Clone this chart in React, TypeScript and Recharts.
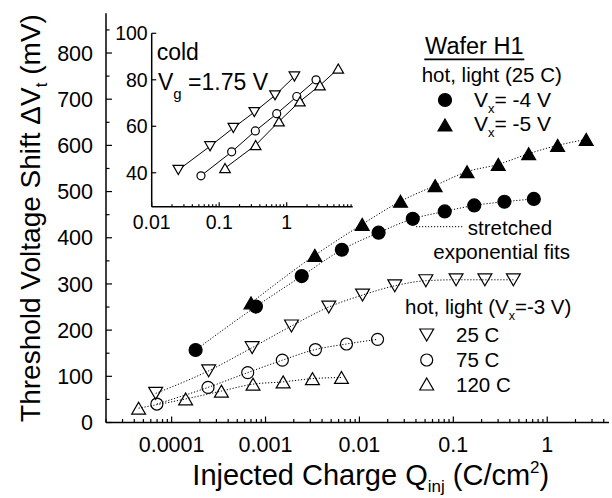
import React from 'react';
import { LineChart, Line, XAxis, YAxis } from 'recharts';

const FONT = '"Liberation Sans", Arial, Helvetica, sans-serif';

// main plot, hot light 25 C
const vx4Q = [1.8e-4, 7.9e-4, 2.43e-3, 6.5e-3, 0.016, 0.037, 0.081, 0.167, 0.35, 0.72];
const vx4Dv = [157, 251, 317, 374, 411, 441, 457, 470, 478, 484];
const vx5Q = [7.0e-4, 3.35e-3, 0.0107, 0.0274, 0.064, 0.14, 0.301, 0.635, 1.29, 2.6];
const vx5Dv = [259, 362, 429, 479, 513, 543, 559, 582, 600, 613];

// main plot, hot light Vx = -3 V
const t25Q = [6.76e-5, 2.48e-4, 7.2e-4, 1.89e-3, 4.72e-3, 0.0108, 0.0238, 0.051, 0.107, 0.217, 0.436];
const t25Dv = [63, 112, 162, 209, 250, 276, 296, 307, 309, 309, 309];
const t75Q = [6.96e-5, 2.44e-4, 6.46e-4, 1.51e-3, 3.4e-3, 7.28e-3, 0.0156];
const t75Dv = [40, 76, 108, 135, 158, 170, 180];
const t120Q = [4.45e-5, 1.41e-4, 3.39e-4, 7.36e-4, 1.54e-3, 3.16e-3, 6.44e-3];
const t120Dv = [31, 51, 68, 83, 88, 95, 97.5];

// inset, cold, Vg = 1.75 V
const c25Q = [0.0248, 0.0731, 0.162, 0.331, 0.671, 1.3];
const c25Dv = [41.2, 51.4, 59.3, 66.1, 73.3, 81.4];
const c75Q = [0.0537, 0.153, 0.343, 0.711, 1.41, 2.72];
const c75Dv = [38.7, 49, 58, 65.4, 72.8, 80];
const c120Q = [0.122, 0.347, 0.769, 1.57, 3.11, 5.81];
const c120Dv = [42, 51.9, 62.1, 70.7, 77.6, 84.8];

const mainXDomain = [2e-5, 4.55];
const mainYDomain = [0, 886];
const insetXDomain = [0.01, 9.5];
const insetYDomain = [25.4, 100];

const mantissas = [1, 2, 3, 4, 5, 6, 7, 8, 9];
const logTicks = (lo: number, hi: number) =>
  [1e-5, 1e-4, 1e-3, 1e-2, 1e-1, 1]
    .flatMap((d) => mantissas.map((m) => m * d))
    .filter((v) => v >= lo * 0.999 && v <= hi);

const mainXTicks = logTicks(mainXDomain[0], mainXDomain[1]);
const mainYTicks = [0, 50, 100, 150, 200, 250, 300, 350, 400, 450, 500, 550, 600, 650, 700, 750, 800, 850];
const insetXTicks = logTicks(insetXDomain[0], insetXDomain[1]);
const insetYTicks = [40, 60, 80, 100];

const pts = (xs: number[], ys: number[]) => xs.map((x, i) => ({ x, y: ys[i] }));

const isDecade = (v: number) => {
  const lg = Math.log10(v);
  return Math.abs(lg - Math.round(lg)) < 1e-6;
};
const decadeLabel = (v: number) => {
  const p = Math.round(Math.log10(v));
  return p >= 0 ? String(10 ** p) : (10 ** p).toFixed(-p);
};

type Kind = 'circle' | 'up' | 'down';

function Marker({ cx, cy, kind, s, filled }: { cx: number; cy: number; kind: Kind; s: number; filled: string | null }) {
  const fill = filled ?? 'none';
  const common = { fill, stroke: '#000', strokeWidth: 1.2 };
  if (kind === 'circle') return <circle cx={cx} cy={cy} r={s} {...common} />;
  const w = s * 1.1;
  const h = s * 0.95;
  const p =
    kind === 'up'
      ? `${cx},${cy - h} ${cx + w},${cy + h} ${cx - w},${cy + h}`
      : `${cx},${cy + h} ${cx + w},${cy - h} ${cx - w},${cy - h}`;
  return <polygon points={p} {...common} />;
}

const dotFn = (kind: Kind, s: number, filled: string | null) => (p: any) => (
  <Marker key={`m-${kind}-${p.index}`} cx={p.cx} cy={p.cy} kind={kind} s={s} filled={filled} />
);

type Side = 'left' | 'right' | 'top' | 'bottom';
const tickFn =
  (side: Side, major: (v: number) => boolean, label: ((v: number) => string) | null, o: { big: number; small: number; font: number; gap: number }) =>
  (p: any) => {
    const v = p.payload.value;
    const mj = major(v);
    const len = mj ? o.big : o.small;
    const { x, y } = p;
    let ln;
    if (side === 'left') ln = <line x1={x} x2={x + len} y1={y} y2={y} stroke="#000" strokeWidth={1.2} />;
    else if (side === 'right') ln = <line x1={x} x2={x - len} y1={y} y2={y} stroke="#000" strokeWidth={1.2} />;
    else if (side === 'top') ln = <line x1={x} x2={x} y1={y} y2={y + len} stroke="#000" strokeWidth={1.2} />;
    else ln = <line x1={x} x2={x} y1={y} y2={y - len} stroke="#000" strokeWidth={1.2} />;
    let txt = null;
    if (label && mj) {
      if (side === 'left')
        txt = (
          <text x={x - o.gap} y={y} dy={o.font * 0.36} textAnchor="end" fontSize={o.font} fontFamily={FONT} fill="#000">
            {label(v)}
          </text>
        );
      else if (side === 'bottom')
        txt = (
          <text x={x} y={y + o.gap} textAnchor="middle" fontSize={o.font} fontFamily={FONT} fill="#000">
            {label(v)}
          </text>
        );
    }
    return (
      <g key={`t-${side}-${v}`}>
        {ln}
        {txt}
      </g>
    );
  };

const axisLine = { stroke: '#000', strokeWidth: 1.5 };
const mainTickOpts = { big: 6, small: 3.5, font: 21.5, gap: 29 };
const mainYTickOpts = { big: 6, small: 3.5, font: 21.5, gap: 13 };
const insetTickOpts = { big: 4.5, small: 2.5, font: 19.5, gap: 22.5 };
const insetYTickOpts = { big: 4.5, small: 2.5, font: 19.5, gap: 4 };
const yMajor = (v: number) => v % 100 === 0;

const dotted = { stroke: '#000', strokeWidth: 1, strokeDasharray: '1.2 1.8', type: 'monotone' as const, isAnimationActive: false };

function MainChart() {
  return (
    <LineChart width={612} height={498} margin={{ top: 13.3, right: 3, left: 0, bottom: 0 }}>
      <XAxis
        xAxisId="b"
        dataKey="x"
        type="number"
        scale="log"
        domain={mainXDomain}
        allowDataOverflow
        ticks={mainXTicks}
        interval={0}
        height={75.5}
        tickSize={0}
        tickMargin={0}
        axisLine={axisLine}
        tickLine={false}
        tick={tickFn('bottom', isDecade, decadeLabel, mainTickOpts)}
      />
      <XAxis
        xAxisId="t"
        orientation="top"
        dataKey="x"
        type="number"
        scale="log"
        domain={mainXDomain}
        allowDataOverflow
        ticks={mainXTicks}
        interval={0}
        height={0}
        tickSize={0}
        tickMargin={0}
        axisLine={axisLine}
        tickLine={false}
        tick={tickFn('top', isDecade, null, mainTickOpts)}
      />
      <YAxis
        yAxisId="l"
        type="number"
        domain={mainYDomain}
        allowDataOverflow
        ticks={mainYTicks}
        interval={0}
        width={106}
        tickSize={0}
        tickMargin={0}
        axisLine={axisLine}
        tickLine={false}
        tick={tickFn('left', yMajor, (v) => String(v), mainYTickOpts)}
      />
      <YAxis
        yAxisId="r"
        orientation="right"
        type="number"
        domain={mainYDomain}
        allowDataOverflow
        ticks={mainYTicks}
        interval={0}
        width={0}
        tickSize={0}
        tickMargin={0}
        axisLine={axisLine}
        tickLine={false}
        tick={tickFn('right', yMajor, null, mainYTickOpts)}
      />
      <Line xAxisId="b" yAxisId="l" data={pts(t120Q, t120Dv)} dataKey="y" {...dotted} dot={dotFn('up', 6.3, null)} />
      <Line xAxisId="b" yAxisId="l" data={pts(t75Q, t75Dv)} dataKey="y" {...dotted} dot={dotFn('circle', 6, null)} />
      <Line xAxisId="b" yAxisId="l" data={pts(t25Q, t25Dv)} dataKey="y" {...dotted} dot={dotFn('down', 6.3, null)} />
      <Line xAxisId="b" yAxisId="l" data={pts(vx4Q, vx4Dv)} dataKey="y" {...dotted} dot={dotFn('circle', 6.5, '#000')} />
      <Line xAxisId="b" yAxisId="l" data={pts(vx5Q, vx5Dv)} dataKey="y" {...dotted} dot={dotFn('up', 6.3, '#000')} />
    </LineChart>
  );
}

const solid = { stroke: '#000', strokeWidth: 1, type: 'linear' as const, isAnimationActive: false };

function InsetChart() {
  return (
    <LineChart width={260} height={220} margin={{ top: 18.3, right: 7.3, left: 0, bottom: 0 }}>
      <XAxis
        xAxisId="b"
        dataKey="x"
        type="number"
        scale="log"
        domain={insetXDomain}
        allowDataOverflow
        ticks={insetXTicks}
        interval={0}
        height={28.3}
        tickSize={0}
        tickMargin={0}
        axisLine={axisLine}
        tickLine={false}
        tick={tickFn('bottom', isDecade, decadeLabel, insetTickOpts)}
      />
      <XAxis
        xAxisId="t"
        orientation="top"
        dataKey="x"
        type="number"
        scale="log"
        domain={insetXDomain}
        allowDataOverflow
        ticks={insetXTicks}
        interval={0}
        height={0}
        tickSize={0}
        tickMargin={0}
        axisLine={axisLine}
        tickLine={false}
        tick={tickFn('top', isDecade, null, insetTickOpts)}
      />
      <YAxis
        yAxisId="l"
        type="number"
        domain={insetYDomain}
        allowDataOverflow
        ticks={insetYTicks}
        interval={0}
        width={51.7}
        tickSize={0}
        tickMargin={0}
        axisLine={axisLine}
        tickLine={false}
        tick={tickFn('left', () => true, (v) => String(v), insetYTickOpts)}
      />
      <YAxis
        yAxisId="r"
        orientation="right"
        type="number"
        domain={insetYDomain}
        allowDataOverflow
        ticks={insetYTicks}
        interval={0}
        width={0}
        tickSize={0}
        tickMargin={0}
        axisLine={axisLine}
        tickLine={false}
        tick={tickFn('right', () => true, null, insetYTickOpts)}
      />
      <Line xAxisId="b" yAxisId="l" data={pts(c25Q, c25Dv)} dataKey="y" {...solid} dot={dotFn('down', 4.8, '#fff')} />
      <Line xAxisId="b" yAxisId="l" data={pts(c75Q, c75Dv)} dataKey="y" {...solid} dot={dotFn('circle', 4, '#fff')} />
      <Line xAxisId="b" yAxisId="l" data={pts(c120Q, c120Dv)} dataKey="y" {...solid} dot={dotFn('up', 4.8, '#fff')} />
    </LineChart>
  );
}

function Annotations() {
  const t = { fontFamily: FONT, fill: '#000' };
  return (
    <svg width={612} height={498} style={{ position: 'absolute', left: 0, top: 0, pointerEvents: 'none' }}>
      {/* axis titles */}
      <text x={370.8} y={485} textAnchor="middle" fontSize={29} {...t}>
        Injected Charge Q<tspan dy={7} fontSize={17}>inj</tspan>
        <tspan dy={-7}> (C/cm</tspan>
        <tspan dy={-12} fontSize={17}>2</tspan>
        <tspan dy={12}>)</tspan>
      </text>
      <text x={40} y={218} textAnchor="middle" fontSize={28} transform="rotate(-90 40 218)" {...t}>
        Threshold Voltage Shift ΔV<tspan dy={7} fontSize={17}>t</tspan>
        <tspan dy={-7}> (mV)</tspan>
      </text>

      {/* hot, light legend */}
      <text x={474.3} y={54} textAnchor="middle" fontSize={23.5} {...t}>Wafer H1</text>
      <line x1={424.3} x2={524.3} y1={59.3} y2={59.3} stroke="#000" strokeWidth={1.8} />
      <text x={421.7} y={82} fontSize={20.5} {...t}>hot, light (25 C)</text>
      <Marker cx={445} cy={100} kind="circle" s={6.5} filled="#000" />
      <text x={474} y={106.5} fontSize={21} {...t}>
        V<tspan dy={6} fontSize={13}>x</tspan>
        <tspan dy={-6}>= -4 V</tspan>
      </text>
      <Marker cx={445} cy={125} kind="up" s={6.3} filled="#000" />
      <text x={474} y={130.5} fontSize={21} {...t}>
        V<tspan dy={6} fontSize={13}>x</tspan>
        <tspan dy={-6}>= -5 V</tspan>
      </text>

      {/* fit annotation */}
      <line x1={416} x2={463} y1={226.7} y2={226.7} stroke="#000" strokeWidth={1} strokeDasharray="1.2 1.8" />
      <text x={510} y={235} textAnchor="middle" fontSize={20.5} {...t}>stretched</text>
      <text x={501.7} y={259} textAnchor="middle" fontSize={20.5} {...t}>exponential fits</text>

      {/* temperature legend */}
      <text x={405} y={313.5} fontSize={20.5} {...t}>
        hot, light (V<tspan dy={6} fontSize={12.5}>x</tspan>
        <tspan dy={-6}>=-3 V)</tspan>
      </text>
      <Marker cx={426.7} cy={335} kind="down" s={6.3} filled={null} />
      <text x={456} y={342} fontSize={20.5} {...t}>25 C</text>
      <Marker cx={426.7} cy={360} kind="circle" s={6} filled={null} />
      <text x={456} y={367} fontSize={20.5} {...t}>75 C</text>
      <Marker cx={426.7} cy={384} kind="up" s={6.3} filled={null} />
      <text x={456} y={392} fontSize={20.5} {...t}>120 C</text>

      {/* inset labels */}
      <text x={156.7} y={60} fontSize={23} {...t}>cold</text>
      <text x={158} y={90} fontSize={23} {...t}>
        V<tspan dy={9} fontSize={15}>g</tspan>
        <tspan dy={-9}> =1.75 V</tspan>
      </text>
    </svg>
  );
}

export default function App() {
  return (
    <div style={{ position: 'absolute', left: 0, top: 0, width: 612, height: 498, background: '#fff' }}>
      <div style={{ position: 'absolute', left: 0, top: 0 }}>
        <MainChart />
      </div>
      <div style={{ position: 'absolute', left: 100, top: 15 }}>
        <InsetChart />
      </div>
      <Annotations />
    </div>
  );
}
